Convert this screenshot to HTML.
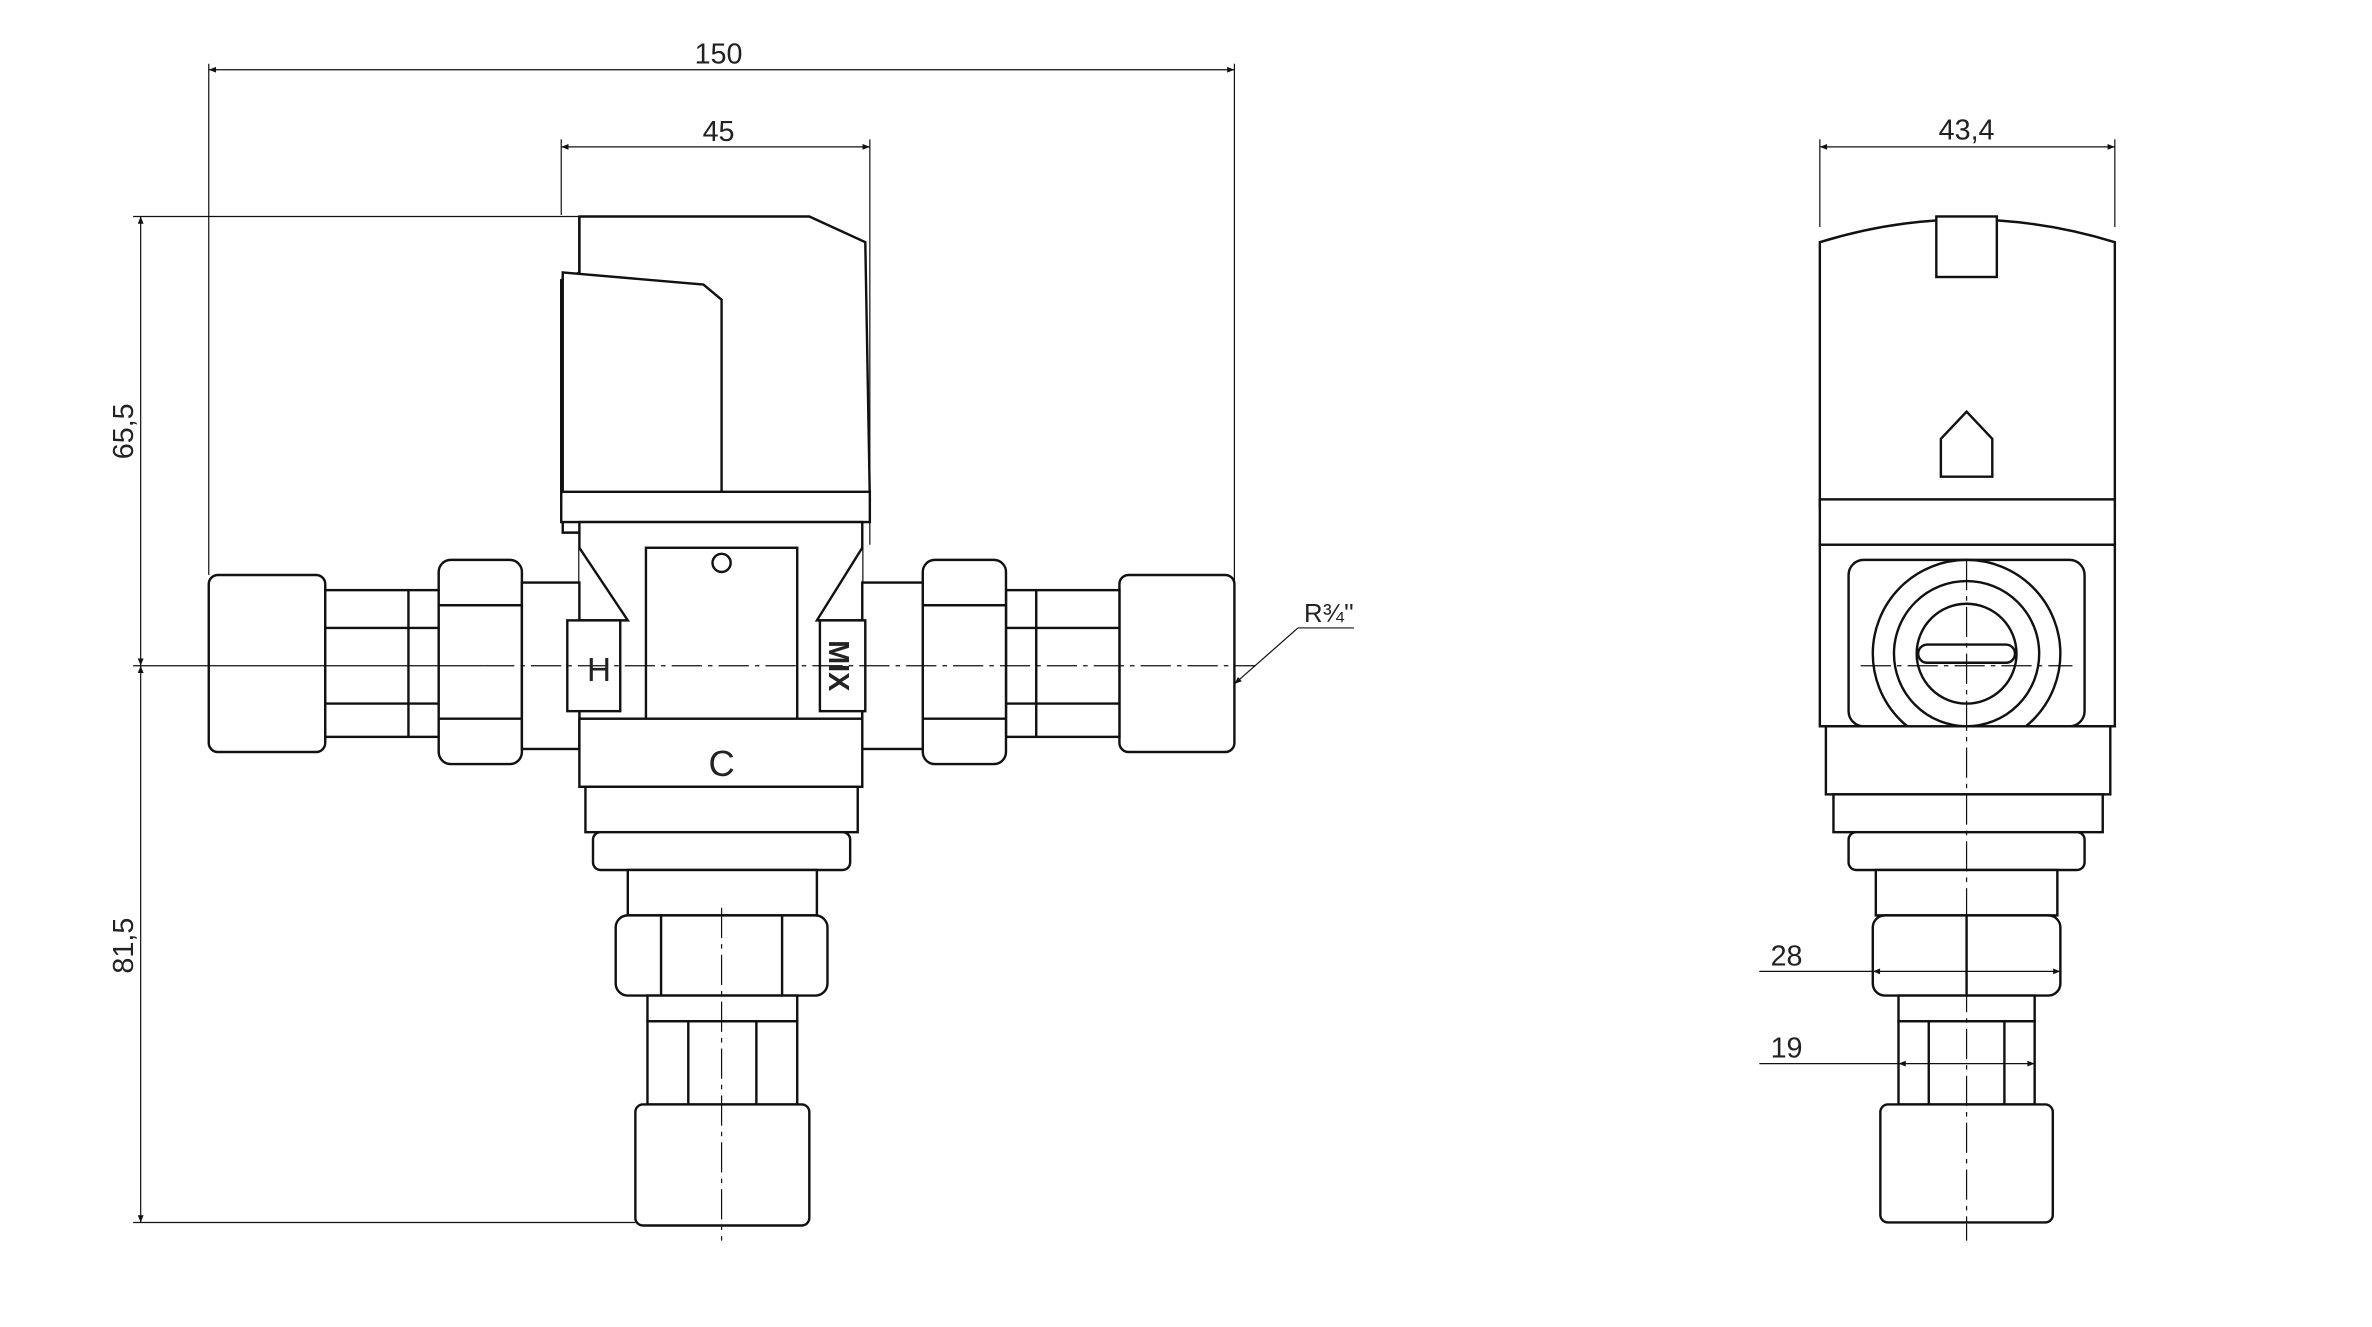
<!DOCTYPE html>
<html><head><meta charset="utf-8"><style>
html,body{margin:0;padding:0;background:#fff;}
svg{display:block;}
text{font-family:"Liberation Sans",sans-serif;fill:#222;}
</style></head><body>
<svg width="2372" height="1327" viewBox="0 0 1568 877" xmlns="http://www.w3.org/2000/svg">
<defs>
<marker id="a" viewBox="0 0 10 10" refX="10" refY="5" markerWidth="8" markerHeight="6" orient="auto-start-reverse"><path d="M0,1 L10,5 L0,9 z" fill="#111"/></marker>
</defs>
<rect width="1568" height="877" fill="#fff"/>
<g stroke="#111" stroke-width="1.6" fill="#fff">
<!-- LEFT VIEW -->
<path d="M383,143 L535,143 L572,160 L575,330 L371,330 L371,185 L383,180 Z"/>
<path d="M383,143 L383,180"/>
<path d="M372,180 L465,188 L477,198 L477,352 L372,352 Z"/>
<rect x="371" y="325" width="204" height="20"/>
<rect x="383" y="345" width="187" height="135"/>
<path d="M383,362 L415,410 L383,410 M570,362 L540,410 L570,410"/>
<rect x="427" y="362" width="100" height="113"/>
<circle cx="477" cy="372" r="6"/>
<rect x="138" y="380" width="77" height="117" rx="6"/>
<rect x="215" y="390" width="75" height="97"/>
<line x1="215" y1="415" x2="290" y2="415"/><line x1="215" y1="465" x2="290" y2="465"/>
<line x1="270" y1="390" x2="270" y2="487"/>
<rect x="290" y="370" width="55" height="135" rx="8"/>
<line x1="290" y1="400" x2="345" y2="400"/><line x1="290" y1="475" x2="345" y2="475"/>
<rect x="345" y="385" width="38" height="110"/>
<rect x="740" y="380" width="76" height="117" rx="6"/>
<rect x="665" y="390" width="75" height="97"/>
<line x1="665" y1="415" x2="740" y2="415"/><line x1="665" y1="465" x2="740" y2="465"/>
<line x1="685" y1="390" x2="685" y2="487"/>
<rect x="610" y="370" width="55" height="135" rx="8"/>
<line x1="610" y1="400" x2="665" y2="400"/><line x1="610" y1="475" x2="665" y2="475"/>
<rect x="570" y="385" width="40" height="110"/>
<rect x="375" y="410" width="35" height="60"/>
<rect x="542" y="410" width="30" height="60"/>
<rect x="383" y="475" width="187" height="45"/>
<rect x="387" y="520" width="180" height="30"/>
<rect x="392" y="550" width="170" height="25" rx="5"/>
<rect x="415" y="575" width="125" height="30"/>
<rect x="407" y="605" width="140" height="53" rx="8"/>
<line x1="437" y1="605" x2="437" y2="658"/><line x1="517" y1="605" x2="517" y2="658"/>
<rect x="428" y="658" width="99" height="17"/>
<rect x="428" y="675" width="99" height="55"/>
<line x1="455" y1="675" x2="455" y2="730"/><line x1="500" y1="675" x2="500" y2="730"/>
<rect x="420" y="730" width="115" height="80" rx="5"/>
<!-- RIGHT VIEW -->
<path d="M1203,160 Q1300,130 1398,160 L1398,335 L1203,335 Z"/>
<rect x="1280" y="143" width="40" height="40"/>
<path d="M1283,290 L1300,272 L1317,290 L1317,315 L1283,315 Z"/>
<rect x="1203" y="330" width="195" height="30"/>
<rect x="1203" y="360" width="195" height="120"/>
<rect x="1222" y="370" width="156" height="110" rx="10"/>
<circle cx="1300" cy="432" r="62"/>
<circle cx="1300" cy="432" r="48"/>
<circle cx="1300" cy="432" r="33"/>
<rect x="1268" y="426" width="64" height="12" rx="6"/>
<rect x="1207" y="480" width="188" height="45"/>
<rect x="1212" y="525" width="178" height="25"/>
<rect x="1222" y="550" width="156" height="25" rx="5"/>
<rect x="1240" y="575" width="120" height="30"/>
<rect x="1238" y="605" width="124" height="53" rx="8"/>
<line x1="1300" y1="605" x2="1300" y2="658"/>
<rect x="1255" y="658" width="90" height="17"/>
<rect x="1255" y="675" width="90" height="55"/>
<line x1="1275" y1="675" x2="1275" y2="730"/><line x1="1325" y1="675" x2="1325" y2="730"/>
<rect x="1243" y="730" width="114" height="78" rx="5"/>
</g>
<g stroke="#111" stroke-width="0.8" fill="none">
<line x1="138" y1="42" x2="138" y2="380"/>
<line x1="816" y1="42" x2="816" y2="450"/>
<line x1="371" y1="92" x2="371" y2="142"/>
<line x1="575" y1="92" x2="575" y2="360"/>
<line x1="88" y1="143" x2="383" y2="143"/>
<line x1="88" y1="808" x2="420" y2="808"/>
<line x1="1203" y1="92" x2="1203" y2="150"/>
<line x1="1398" y1="92" x2="1398" y2="150"/>
<line x1="138" y1="46" x2="816" y2="46" marker-start="url(#a)" marker-end="url(#a)"/>
<line x1="371" y1="97" x2="575" y2="97" marker-start="url(#a)" marker-end="url(#a)"/>
<line x1="93" y1="143" x2="93" y2="440" marker-start="url(#a)" marker-end="url(#a)"/>
<line x1="93" y1="440" x2="93" y2="808" marker-start="url(#a)" marker-end="url(#a)"/>
<line x1="1203" y1="97" x2="1398" y2="97" marker-start="url(#a)" marker-end="url(#a)"/>
<line x1="1163" y1="642" x2="1238" y2="642"/>
<line x1="1238" y1="642" x2="1362" y2="642" marker-start="url(#a)" marker-end="url(#a)"/>
<line x1="1163" y1="703" x2="1255" y2="703"/>
<line x1="1255" y1="703" x2="1345" y2="703" marker-start="url(#a)" marker-end="url(#a)"/>
<line x1="895" y1="415" x2="858" y2="415"/>
<line x1="858" y1="415" x2="816" y2="452" marker-end="url(#a)"/>
<line x1="88" y1="440" x2="320" y2="440"/>
<g stroke-dasharray="20,4,3,4">
<line x1="320" y1="440" x2="830" y2="440"/>
<line x1="477" y1="600" x2="477" y2="820"/>
<line x1="1300" y1="370" x2="1300" y2="820"/>
<line x1="1230" y1="440" x2="1370" y2="440"/>
</g>
</g>
<text x="475" y="42" font-size="19" text-anchor="middle">150</text>
<text x="475" y="93" font-size="19" text-anchor="middle">45</text>
<text x="1300" y="92" font-size="19" text-anchor="middle">43,4</text>
<text transform="translate(88,285) rotate(-90)" font-size="19" text-anchor="middle">65,5</text>
<text transform="translate(88,625) rotate(-90)" font-size="19" text-anchor="middle">81,5</text>
<text x="1181" y="638" font-size="19" text-anchor="middle">28</text>
<text x="1181" y="699" font-size="19" text-anchor="middle">19</text>
<text x="862" y="411" font-size="17">R¾''</text>
<text x="396" y="450" font-size="22" text-anchor="middle">H</text>
<text x="477" y="513" font-size="24" text-anchor="middle">C</text>
<text transform="translate(548,440) rotate(90)" font-size="19" text-anchor="middle" font-weight="bold">MIX</text>
</svg>
</body></html>
